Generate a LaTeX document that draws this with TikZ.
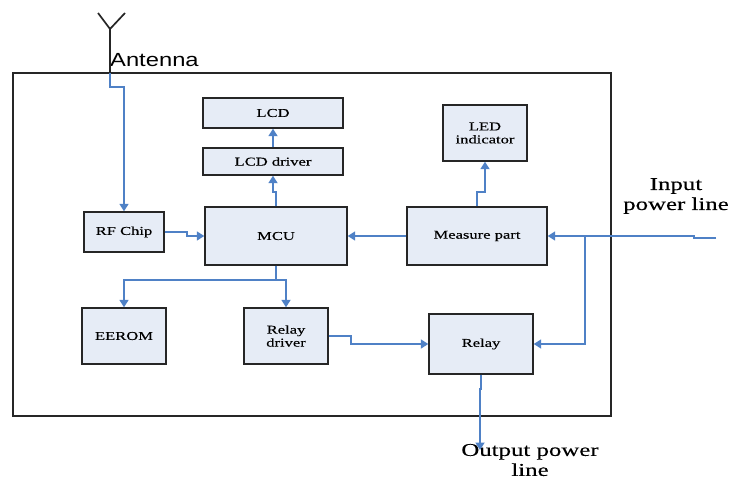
\documentclass[tikz,border=0pt]{standalone}
\usepackage{fontspec}
\usepackage{xcolor}
\usepackage{tikz}
\usetikzlibrary{arrows.meta}
\setmainfont[FakeStretch=1.38,FakeBold=0.25]{Liberation Serif}
\newfontfamily\antfont[FakeStretch=1.25]{Liberation Sans}
\definecolor{boxfill}{HTML}{E6ECF6}
\definecolor{linkblue}{HTML}{4F81C6}

\begin{document}
\begin{tikzpicture}[
      x=1pt, y=-1pt,
      block/.style={
        draw=black!85,
        line width=1.4pt,
        fill=boxfill,
        inner sep=0pt,
        align=center,
        font=\fontsize{12}{13}\selectfont
      },
      link/.style={-{Triangle[length=7.5pt,width=9pt]}, draw=linkblue, line width=1.7pt},
      caption/.style={align=center, inner sep=0pt, font=\fontsize{18}{20}\selectfont}
    ]
    \useasboundingbox (0,0) rectangle (730,479);

    % outer housing
    \node[draw=black!85, line width=1.4pt, minimum width=598pt, minimum height=343pt, inner sep=0pt] (meter) at (312,244.5) {};

    \node[block, minimum width=140pt, minimum height=30pt] (lcd) at (273,113) {LCD};
    \node[block, minimum width=140pt, minimum height=27pt] (lcddrv) at (273,161.5) {LCD driver};
    \node[block, minimum width=142pt, minimum height=58pt] (mcu) at (276,236) {MCU};
    \node[block, minimum width=80pt, minimum height=40pt] (rf) at (124,232) {RF Chip};
    \node[block, minimum width=140pt, minimum height=58pt] (meas) at (477,236) {Measure part};
    \node[block, minimum width=84pt, minimum height=56pt] (led) at (485,133) {LED\\indicator};
    \node[block, minimum width=84pt, minimum height=56pt] (eerom) at (124,336) {EEROM};
    \node[block, minimum width=84pt, minimum height=56pt] (rdrv) at (286,336) {Relay\\driver};
    \node[block, minimum width=104pt, minimum height=60pt] (relay) at (481,344) {Relay};

    \node[anchor=west, inner sep=0pt, font=\antfont\fontsize{19}{20}\selectfont] (antlabel) at (110,60) {Antenna};
    \node[caption] (inlabel) at (676,196) {Input\\power line};
    \node[caption] (outlabel) at (530,460) {Output power\\line};

    % antenna symbol
    \coordinate (ant) at (110,73);
    \coordinate (anttop) at (110,29);
    \coordinate (antl) at (98,13);
    \coordinate (antr) at (125,13);
    \draw[black!85, line width=1.7pt] (ant) -- (anttop) (antl) -- (anttop) -- (antr);

    \coordinate (inp) at (716,238);
    \coordinate (branch) at (585,236);
    \coordinate (outp) at (480,450);

    \draw[link] (ant) -- ++(0,14) -| (rf.north);
    \draw[link] (rf.east) -- ++(22,0) -- ++(0,4) -- (mcu.west);
    \draw[link] (mcu.north) -- ++(0,-14) -| (lcddrv.south);
    \draw[link] (lcddrv.north) -- (lcd.south);
    \draw[link] (meas.west) -- (mcu.east);
    \draw[link] (meas.north) -- ++(0,-14) -| (led.south);
    \draw[link] (mcu.south) -- ++(0,14) -| (eerom.north);
    \draw[link] (mcu.south) -- ++(0,14) -| (rdrv.north);
    \draw[link] (rdrv.east) -- ++(22,0) |- (relay.west);
    \draw[link] (inp) -- ++(-22,0) -- ++(0,-2) -- (meas.east);
    \draw[link] (branch) |- (relay.east);
    \draw[link] (relay.south) -- ++(0,14) -| (outp);
  \end{tikzpicture}
\end{document}
